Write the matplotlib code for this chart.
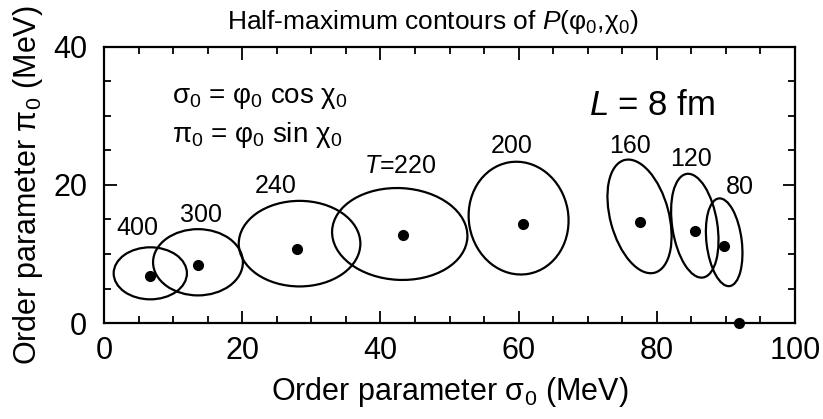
import numpy as np
import matplotlib
matplotlib.use("Agg")
import matplotlib.pyplot as plt
from matplotlib.patches import Ellipse

plt.rcParams['font.family'] = ['Liberation Sans', 'DejaVu Sans']
plt.rcParams['mathtext.fontset'] = 'custom'
plt.rcParams['mathtext.rm'] = 'Liberation Sans'
plt.rcParams['mathtext.it'] = 'Liberation Sans:italic'

# peak positions (MeV) for each temperature
temps = ['400', '300', '240', '$T$=220', '200', '160', '120', '80']
peak_sigma = [6.7, 13.6, 28.0, 43.3, 60.7, 77.6, 85.5, 89.7]
peak_pi = [6.8, 8.4, 10.7, 12.75, 14.4, 14.6, 13.3, 11.1]

# half-maximum contours approximated by ellipses
ell_cx = [6.7, 13.6, 28.3, 42.8, 60.0, 77.5, 85.5, 89.75]
ell_cy = [7.2, 8.8, 11.5, 12.9, 15.2, 15.45, 14.1, 11.7]
ell_a = [5.3, 6.5, 8.8, 9.8, 8.2, 8.45, 7.6, 6.4]
ell_b = [3.77, 4.8, 6.2, 6.65, 7.2, 4.24, 3.26, 2.55]
ell_ang = [0, 0, 0, -3, 100, 105, 99, 97]

# label positions
lab_x = [4.9, 14.0, 24.9, 42.9, 58.95, 76.1, 84.9, 92.0]
lab_y = [12.75, 14.7, 18.8, 21.7, 24.6, 24.6, 22.75, 18.7]

# vacuum point
vac_sigma = [91.9]
vac_pi = [0.0]

fig = plt.figure(figsize=(8.23, 4.19), dpi=100)
ax = fig.add_axes([104/823, 1-323/419, 691/823, 276/419])

for cx, cy, a, b, ang in zip(ell_cx, ell_cy, ell_a, ell_b, ell_ang):
    ax.add_patch(Ellipse((cx, cy), 2*a, 2*b, angle=ang, fill=False,
                         edgecolor='black', linewidth=1.6))

ax.plot(peak_sigma, peak_pi, 'o', color='black', markersize=7)
ax.plot(vac_sigma, vac_pi, 'o', color='black', markersize=7, clip_on=False, zorder=5)

for t, x, y in zip(temps, lab_x, lab_y):
    ax.text(x, y, t, ha='center', va='baseline', fontsize=18)

ax.text(9.9, 31.9, 'σ$_0$ = φ$_0$ cos χ$_0$', ha='left', va='baseline', fontsize=20)
ax.text(9.9, 26.3, 'π$_0$ = φ$_0$ sin χ$_0$', ha='left', va='baseline', fontsize=20)
ax.text(70.2, 30.1, '$L$ = 8 fm', ha='left', va='baseline', fontsize=25)

ax.set_xlim(0, 100)
ax.set_ylim(0, 40)
ax.set_xticks([0, 20, 40, 60, 80, 100])
ax.set_yticks([0, 20, 40])
ax.set_xticks(np.arange(0, 101, 5), minor=True)
ax.set_yticks(np.arange(0, 41, 5), minor=True)
ax.tick_params(which='both', direction='in', top=True, right=True, width=1.3)
ax.tick_params(which='major', length=9, labelsize=22)
ax.tick_params(which='minor', length=5)
ax.tick_params(axis='x', which='major', pad=9)
ax.tick_params(axis='y', which='major', pad=12)
for s in ax.spines.values():
    s.set_linewidth(1.6)

ax.set_xlabel('Order parameter σ$_0$ (MeV)', fontsize=22, labelpad=7)
ax.set_ylabel('Order parameter π$_0$ (MeV)', fontsize=22)
ax.yaxis.set_label_coords(-0.085, 0.5)
ax.set_title('Half-maximum contours of $P$(φ$_0$,χ$_0$)', fontsize=19, x=0.475, pad=13)

fig.savefig('out.png', dpi=100)
